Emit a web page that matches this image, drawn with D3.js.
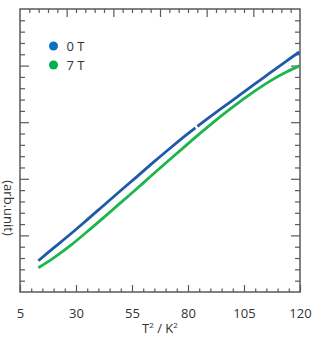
<!DOCTYPE html>
<html><head><meta charset="utf-8">
<script src="https://cdn.jsdelivr.net/npm/d3@7"></script>
<style>body{margin:0;background:#fff}svg{display:block}</style>
</head><body>
<svg id="c" width="330" height="339"></svg>
<script>
// ---- data ----
const xTicks = [5, 30, 55, 80, 105, 130];
const xTickLabels = ["5", "30", "55", "80", "105", "120"];
const seriesNames = ["0 T", "7 T"];
const blueT2 = [13.2, 19.9, 27.3, 34.8, 42.2, 49.6, 57.1, 64.5, 72.0, 79.4, 83.3, 83.7, 84.2, 86.8, 94.3, 101.7, 109.1, 116.6, 124.1, 129.7];
const blueY  = [0.553, 0.775, 1.015, 1.270, 1.525, 1.780, 2.035, 2.290, 2.540, 2.780, 2.900, null, 2.925, 3.005, 3.225, 3.440, 3.655, 3.870, 4.085, 4.240];
const greenT2 = [13.2, 19.9, 27.3, 34.8, 42.2, 49.6, 57.1, 64.5, 72.0, 79.4, 86.8, 94.3, 101.7, 109.1, 116.6, 124.1, 129.7];
const greenY  = [0.429, 0.600, 0.815, 1.060, 1.310, 1.565, 1.825, 2.085, 2.345, 2.600, 2.850, 3.095, 3.320, 3.530, 3.725, 3.890, 3.995];

// ---- layout ----
const L = 20, R = 300, T = 9, B = 292;
const axisCol = "#5a5a5a";
const svg = d3.select("#c");
const x = d3.scaleLinear().domain([5, 130]).range([L, R]);
const y = d3.scaleLinear().domain([0, 5]).range([B, T]);
const xTop = d3.scaleLinear().domain([0, 6]).range([L, R]);

function styleAxis(g) {
  g.select(".domain").remove();
  g.selectAll("line").attr("stroke", axisCol).attr("stroke-width", 1.2);
}

const xMinor = d3.range(5, 130.01, 5).filter(v => !xTicks.includes(v));
const yMinor = d3.range(0, 5.001, 0.2).filter(v => Math.abs(v - Math.round(v)) > 1e-6);
const topMinor = d3.range(0, 6.001, 0.2).filter(v => Math.abs(v - Math.round(v)) > 1e-6);

// bottom
svg.append("g").attr("transform", `translate(0,${B})`)
  .call(d3.axisBottom(x).tickValues(xMinor).tickSize(-3.5).tickFormat(""))
  .call(styleAxis);
svg.append("g").attr("transform", `translate(0,${B})`)
  .call(d3.axisBottom(x).tickValues(xTicks).tickSize(-7).tickPadding(17)
    .tickFormat((d, i) => xTickLabels[i]))
  .call(styleAxis)
  .call(g => g.selectAll("text").attr("fill", "#333").attr("font-size", 13)
    .attr("font-family", "'Open Sans', 'Noto Sans', sans-serif"));
// top
svg.append("g").attr("transform", `translate(0,${T})`)
  .call(d3.axisTop(xTop).tickValues(topMinor).tickSize(-4).tickFormat(""))
  .call(styleAxis);
svg.append("g").attr("transform", `translate(0,${T})`)
  .call(d3.axisTop(xTop).tickValues(d3.range(1, 6)).tickSize(-8).tickFormat(""))
  .call(styleAxis);
// left
svg.append("g").attr("transform", `translate(${L},0)`)
  .call(d3.axisLeft(y).tickValues(yMinor).tickSize(-5).tickFormat(""))
  .call(styleAxis);
svg.append("g").attr("transform", `translate(${L},0)`)
  .call(d3.axisLeft(y).tickValues(d3.range(1, 5)).tickSize(-9).tickFormat(""))
  .call(styleAxis);
// right
svg.append("g").attr("transform", `translate(${R},0)`)
  .call(d3.axisRight(y).tickValues(yMinor).tickSize(-5).tickFormat(""))
  .call(styleAxis);
svg.append("g").attr("transform", `translate(${R},0)`)
  .call(d3.axisRight(y).tickValues(d3.range(1, 5)).tickSize(-9).tickFormat(""))
  .call(styleAxis);

// frame
svg.append("rect").attr("x", L).attr("y", T).attr("width", R - L).attr("height", B - T)
  .attr("fill", "none").attr("stroke", axisCol).attr("stroke-width", 1.5);

// lines
const line = d3.line().defined(d => d[1] != null)
  .x(d => x(d[0])).y(d => y(d[1])).curve(d3.curveCatmullRom);
svg.append("path").datum(greenT2.map((v, i) => [v, greenY[i]]))
  .attr("d", line).attr("fill", "none").attr("stroke", "#1cb64e").attr("stroke-width", 2.8);
svg.append("path").datum(blueT2.map((v, i) => [v, blueY[i]]))
  .attr("d", line).attr("fill", "none").attr("stroke", "#1f5aa8").attr("stroke-width", 2.8);

// legend
const legCols = ["#0a6fc3", "#00b050"];
seriesNames.forEach((n, i) => {
  const cy = 46 + i * 19;
  svg.append("circle").attr("cx", 53.5).attr("cy", cy).attr("r", 4.5).attr("fill", legCols[i]);
  svg.append("text").attr("x", 66.5).attr("y", cy + 4.5).text(n)
    .attr("font-size", 13).attr("fill", "#333")
    .attr("font-family", "'Open Sans', 'Noto Sans', sans-serif");
});

// axis titles
const xt = svg.append("text").attr("x", 160).attr("y", 333).attr("text-anchor", "middle")
  .attr("font-size", 13).attr("fill", "#333")
  .attr("font-family", "'Open Sans', 'Noto Sans', sans-serif");
xt.append("tspan").text("T");
xt.append("tspan").text("2").attr("font-size", 8).attr("dy", -5);
xt.append("tspan").text(" / K").attr("dy", 5);
xt.append("tspan").text("2").attr("font-size", 8).attr("dy", -5);

svg.append("text").attr("transform", "translate(4,208) rotate(90)")
  .attr("text-anchor", "middle").attr("font-size", 13).attr("fill", "#333")
  .attr("font-family", "'Open Sans', 'Noto Sans', sans-serif")
  .text("(arb.unit)");
</script>
</body></html>
